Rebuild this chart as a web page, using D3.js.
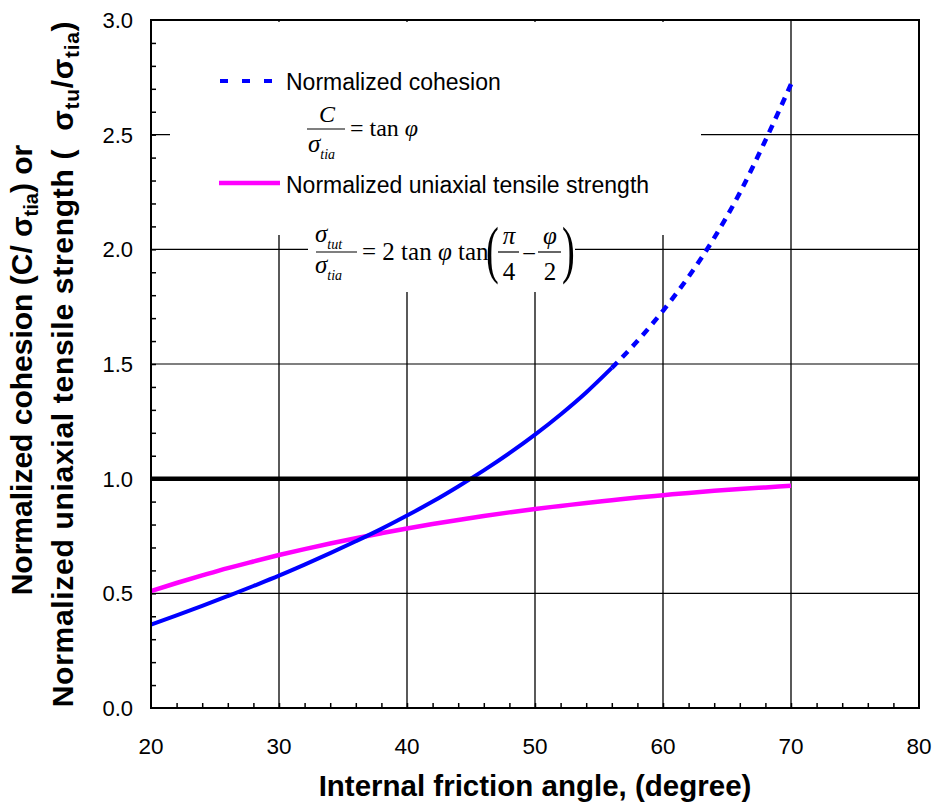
<!DOCTYPE html>
<html>
<head>
<meta charset="utf-8">
<script src="https://cdn.jsdelivr.net/npm/d3@7"></script>
<style>
  body { margin: 0; background: #fff; }
  svg { display: block; }
  text { font-family: "Liberation Sans", Arial, sans-serif; }
  .eq text { font-family: "Liberation Serif", "Times New Roman", serif; }
</style>
</head>
<body>
<svg class="chart" width="934" height="802"></svg>
<script>
// friction angle (degree), read every 2 degrees
var angle = [20,22,24,26,28,30,32,34,36,38,40,42,44,46,48,50,52,54,56,58,60,62,64,66,68,70];
// C / sigma_tia
var cohesion = [0.364,0.404,0.445,0.488,0.532,0.577,0.625,0.675,0.727,0.781,0.839,0.900,0.966,
                1.036,1.111,1.192,1.280,1.376,1.483,1.600,1.732,1.881,2.050,2.246,2.475,2.720];
// sigma_tut / sigma_tia
var tensile = [0.510,0.545,0.578,0.610,0.639,0.667,0.693,0.717,0.740,0.762,0.783,0.802,0.820,
               0.837,0.853,0.868,0.881,0.894,0.906,0.918,0.928,0.938,0.947,0.955,0.962,0.969];
var xTicks = [20,30,40,50,60,70,80];
var yTicks = [0,0.5,1.0,1.5,2.0,2.5,3.0];
var dashFrom = 56; // excel dash pattern only shows where the curve gets steep

var svg = d3.select(".chart");

var x = d3.scaleLinear().domain([20,80]).range([151,919]);
var y = d3.scaleLinear().domain([0,3]).range([708,20]);

// grid
var grid = svg.append("g").attr("stroke","#000");
grid.selectAll(".vg")
  .data(xTicks.slice(1,-1))
  .enter().append("line")
    .attr("x1",d=>x(d)).attr("x2",d=>x(d))
    .attr("y1",y(3)).attr("y2",y(0))
    .attr("stroke-width",1.3);
grid.selectAll(".hg")
  .data(yTicks.filter(d=>d>0 && d<3 && d!=1))
  .enter().append("line")
    .attr("x1",x(20)).attr("x2",x(80))
    .attr("y1",d=>y(d)).attr("y2",d=>y(d))
    .attr("stroke-width",1.2);

// minor ticks, pointing inward
svg.append("g")
  .attr("transform","translate("+x(20)+",0)")
  .call(d3.axisLeft(y).tickValues(d3.range(1,30).map(d=>d/10)).tickSize(-5).tickFormat(""))
  .call(g=>g.select(".domain").remove())
  .selectAll("line").attr("stroke-width",1.5);
svg.append("g")
  .attr("transform","translate(0,"+y(0)+")")
  .call(d3.axisBottom(x).tickValues(d3.range(22,80,2)).tickSize(-5).tickFormat(""))
  .call(g=>g.select(".domain").remove())
  .selectAll("line").attr("stroke-width",1.5);

// white boxes behind legend and formula (they hide the grid)
svg.append("rect").attr("x",170).attr("y",22).attr("width",531).attr("height",213).attr("fill","#fff");
svg.append("rect").attr("x",308).attr("y",215).attr("width",267).attr("height",77).attr("fill","#fff");

// curves
var pts = angle.map((a,i)=>({a:a,c:cohesion[i],t:tensile[i]}));
var lineC = d3.line().x(d=>x(d.a)).y(d=>y(d.c)).curve(d3.curveMonotoneX);
var lineT = d3.line().x(d=>x(d.a)).y(d=>y(d.t)).curve(d3.curveMonotoneX);

svg.append("path").datum(pts)
  .attr("d",lineT).attr("fill","none")
  .attr("stroke","#ff00ff").attr("stroke-width",4.5);
svg.append("path").datum(pts.filter(d=>d.a<=dashFrom))
  .attr("d",lineC).attr("fill","none")
  .attr("stroke","#0000ff").attr("stroke-width",4);
svg.append("path").datum(pts.filter(d=>d.a>=dashFrom))
  .attr("d",lineC).attr("fill","none")
  .attr("stroke","#0000ff").attr("stroke-width",4.5)
  .attr("stroke-dasharray","8,7");

// the thick line at 1.0
svg.append("line")
  .attr("x1",x(20)).attr("x2",x(80))
  .attr("y1",y(1)).attr("y2",y(1))
  .attr("stroke","#000").attr("stroke-width",4.5);

// frame
svg.append("rect")
  .attr("x",x(20)).attr("y",y(3))
  .attr("width",x(80)-x(20)).attr("height",y(0)-y(3))
  .attr("fill","none").attr("stroke","#000").attr("stroke-width",2);

// tick labels
svg.append("g").selectAll("text")
  .data(xTicks).enter().append("text")
    .attr("x",d=>x(d)).attr("y",754)
    .attr("text-anchor","middle").attr("font-size",22.5)
    .text(d=>d);
svg.append("g").selectAll("text")
  .data(yTicks).enter().append("text")
    .attr("x",133).attr("y",d=>y(d)).attr("dy","0.36em")
    .attr("text-anchor","end").attr("font-size",22)
    .text(d=>d.toFixed(1));

// axis titles
svg.append("text")
  .attr("x",535).attr("y",796)
  .attr("text-anchor","middle").attr("font-size",29.5).attr("font-weight","bold")
  .text("Internal friction angle, (degree)");

var yt1 = svg.append("text")
  .attr("transform","translate(32,370) rotate(-90)")
  .attr("text-anchor","middle").attr("font-size",30).attr("font-weight","bold");
yt1.append("tspan").text("Normalized cohesion (C/ σ");
yt1.append("tspan").attr("font-size",20).attr("dy",6).text("tia");
yt1.append("tspan").attr("dy",-6).text(") or");

var yt2 = svg.append("text")
  .attr("transform","translate(73,364) rotate(-90)")
  .attr("text-anchor","middle").attr("font-size",30).attr("font-weight","bold")
  .attr("letter-spacing",0.7).attr("xml:space","preserve");
yt2.append("tspan").text("Normalized uniaxial tensile strength (  σ");
yt2.append("tspan").attr("font-size",21).attr("dy",6).text("tu");
yt2.append("tspan").attr("dy",-6).text("/σ");
yt2.append("tspan").attr("font-size",21).attr("dy",6).text("tia");
yt2.append("tspan").attr("dy",-6).text(")");

// legend
svg.append("line").attr("x1",220).attr("x2",274).attr("y1",81).attr("y2",81)
  .attr("stroke","#0000ff").attr("stroke-width",4).attr("stroke-dasharray","8,14");
svg.append("text").attr("x",286).attr("y",90).attr("font-size",23).text("Normalized cohesion");
svg.append("line").attr("x1",219).attr("x2",280).attr("y1",183).attr("y2",183)
  .attr("stroke","#ff00ff").attr("stroke-width",4.5);
svg.append("text").attr("x",286).attr("y",193).attr("font-size",23).text("Normalized uniaxial tensile strength");

// formulas
var eq = svg.append("g").attr("class","eq");
function frac(x0,x1,yb){
  eq.append("line").attr("x1",x0).attr("x2",x1).attr("y1",yb).attr("y2",yb)
    .attr("stroke","#000").attr("stroke-width",1.2);
}
function sig(xs,yb,sub){
  var t = eq.append("text").attr("x",xs).attr("y",yb).attr("font-size",25).attr("font-style","italic");
  t.append("tspan").text("σ");
  t.append("tspan").attr("font-size",14).attr("dy",7).text(sub);
}
// C / sigma_tia = tan phi
eq.append("text").attr("x",327).attr("y",122).attr("text-anchor","middle")
  .attr("font-size",24).attr("font-style","italic").text("C");
frac(307,345,129);
sig(308,152,"tia");
var e1 = eq.append("text").attr("x",350).attr("y",136).attr("font-size",24);
e1.append("tspan").text("= tan ");
e1.append("tspan").attr("font-style","italic").text("φ");

// sigma_tut / sigma_tia = 2 tan phi tan(pi/4 - phi/2)
sig(315,242,"tut");
frac(316,357,252);
sig(315,273,"tia");
var e2 = eq.append("text").attr("x",362).attr("y",260).attr("font-size",25);
e2.append("tspan").text("= 2 tan ");
e2.append("tspan").attr("font-style","italic").text("φ");
e2.append("tspan").text(" tan");
eq.append("text").attr("transform","translate(486,271) scale(0.6,1)")
  .attr("font-size",64).text("(");
eq.append("text").attr("x",509).attr("y",244).attr("text-anchor","middle")
  .attr("font-size",25).attr("font-style","italic").text("π");
frac(498,519,252);
eq.append("text").attr("x",509).attr("y",280).attr("text-anchor","middle")
  .attr("font-size",25).text("4");
eq.append("text").attr("x",529).attr("y",262).attr("text-anchor","middle")
  .attr("font-size",25).text("−");
eq.append("text").attr("x",550).attr("y",244).attr("text-anchor","middle")
  .attr("font-size",25).attr("font-style","italic").text("φ");
frac(538,561,252);
eq.append("text").attr("x",550).attr("y",280).attr("text-anchor","middle")
  .attr("font-size",25).text("2");
eq.append("text").attr("transform","translate(562,271) scale(0.6,1)")
  .attr("font-size",64).text(")");
</script>
</body>
</html>
